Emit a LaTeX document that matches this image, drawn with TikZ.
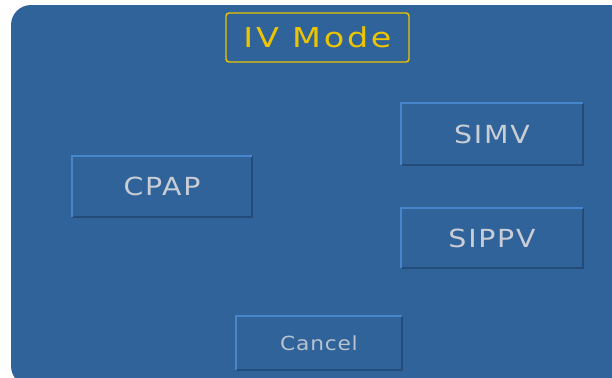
\documentclass[tikz,border=0pt]{standalone}
\usepackage{fontspec}
\newfontfamily\uifont[LetterSpace=7,FakeStretch=1.14]{DejaVu Sans}
\newfontfamily\smallfont[LetterSpace=4,FakeStretch=1.12]{DejaVu Sans}
\newfontfamily\titlefont[LetterSpace=10,FakeStretch=1.22]{DejaVu Sans}
\definecolor{panelblue}{RGB}{47,99,153}
\definecolor{edgelight}{RGB}{72,134,204}
\definecolor{edgedark}{RGB}{36,76,122}
\definecolor{labelgray}{RGB}{200,205,214}
\definecolor{cancelgray}{RGB}{184,194,208}
\definecolor{titleyellow}{RGB}{236,196,0}
\tikzset{
  modebtn/.style={fill=panelblue, inner sep=0pt, text=labelgray,
    font=\uifont\fontsize{25}{25}\selectfont},
  titlebox/.style={draw=titleyellow, line width=1.4bp, rounded corners=3bp,
    inner sep=0pt, text=titleyellow, minimum width=183bp, minimum height=49bp,
    font=\titlefont\fontsize{27.5}{27.5}\selectfont},
  hilite/.style={draw=edgelight, line width=2bp},
  shade/.style={draw=edgedark, line width=2bp},
}
\begin{document}
\begin{tikzpicture}[x=1bp,y=-1bp]
\useasboundingbox (0,0) rectangle (612,377);
\clip (0,0) rectangle (612,377);
\fill[white] (0,0) rectangle (612,377);
% dialog panel
\fill[panelblue, rounded corners=20bp] (11,5) rectangle (650,386);
% title
\node[titlebox] (title) at (317.5,37.5) {IV Mode};
% buttons
\node[modebtn, minimum width=180bp, minimum height=61bp] (cpap) at (162,186.5) {CPAP};
\node[modebtn, minimum width=182bp, minimum height=62bp] (simv) at (492,134) {SIMV};
\node[modebtn, minimum width=182bp, minimum height=60bp] (sippv) at (492,238) {SIPPV};
\node[modebtn, minimum width=166bp, minimum height=54bp, text=cancelgray,
  font=\smallfont\fontsize{19.5}{19.5}\selectfont] (cancel) at (319,343) {Cancel};
% bevelled edges of the buttons
\foreach \b in {cpap,simv,sippv,cancel}{
  \draw[shade] (\b.north east) -- (\b.south east) -- (\b.south west);
  \draw[hilite] (\b.south west) -- (\b.north west) -- (\b.north east);
}
\end{tikzpicture}
\end{document}
